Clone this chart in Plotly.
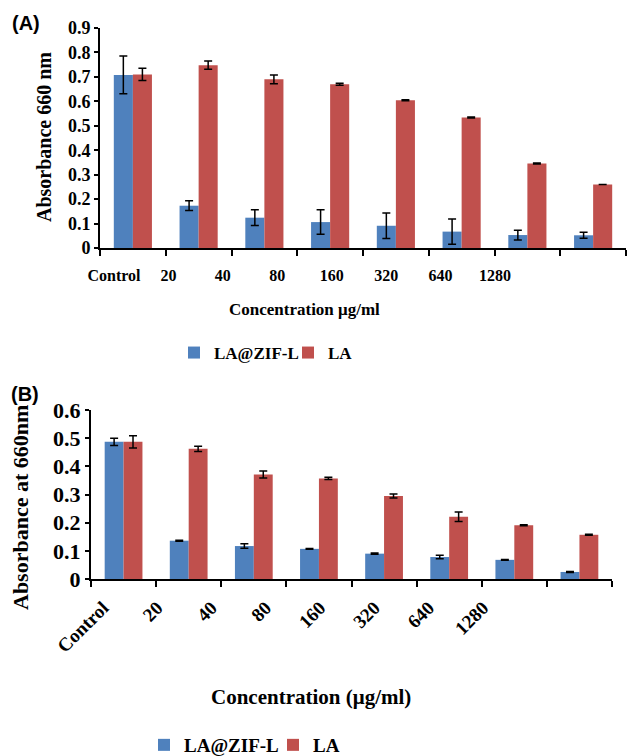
import plotly.graph_objects as go

W, H = 627, 756

categories = ["Control", "20", "40", "80", "160", "320", "640", "1280"]
series_names = ["LA@ZIF-L", "LA"]

# Panel A
a_zif = [0.708, 0.173, 0.124, 0.106, 0.091, 0.067, 0.053, 0.052]
a_zif_err = [0.077, 0.020, 0.032, 0.050, 0.052, 0.052, 0.020, 0.012]
a_la = [0.710, 0.748, 0.690, 0.670, 0.604, 0.534, 0.346, 0.260]
a_la_err = [0.025, 0.017, 0.018, 0.004, 0.002, 0.002, 0.002, 0.0]

# Panel B
b_zif = [0.487, 0.136, 0.117, 0.107, 0.090, 0.078, 0.068, 0.025]
b_zif_err = [0.013, 0.002, 0.008, 0.001, 0.002, 0.006, 0.001, 0.002]
b_la = [0.487, 0.462, 0.371, 0.357, 0.295, 0.221, 0.191, 0.157]
b_la_err = [0.022, 0.009, 0.012, 0.004, 0.007, 0.017, 0.002, 0.002]

BLUE = "#4F81BD"
RED = "#C0504D"
SERIF = "Liberation Serif"

def px(x):
    return x / W

def py(y):
    return 1 - y / H

fig = go.Figure()

def add_bars(xa, ya, vals, errs, name, color, legend, showlegend=True):
    fig.add_trace(go.Bar(
        x=categories, y=vals, name=name, marker=dict(color=color, line=dict(width=0)),
        error_y=dict(type="data", array=errs, color="black", thickness=1.5, width=4),
        xaxis=xa, yaxis=ya, legend=legend, showlegend=showlegend,
    ))

add_bars("x", "y", a_zif, a_zif_err, series_names[0], BLUE, "legend")
add_bars("x", "y", a_la, a_la_err, series_names[1], RED, "legend")
add_bars("x2", "y2", b_zif, b_zif_err, series_names[0], BLUE, "legend2")
add_bars("x2", "y2", b_la, b_la_err, series_names[1], RED, "legend2")

# invisible traces to hold the label axes
fig.add_trace(go.Scatter(x=[0], y=[0], xaxis="x3", yaxis="y", mode="markers",
                         marker=dict(opacity=0), showlegend=False, hoverinfo="skip"))
fig.add_trace(go.Scatter(x=[0], y=[0], xaxis="x4", yaxis="y2", mode="markers",
                         marker=dict(opacity=0), showlegend=False, hoverinfo="skip"))

axis_common = dict(showline=True, linecolor="black", linewidth=2, showgrid=False,
                   zeroline=False, mirror=False, automargin=False)

fig.update_layout(
    width=W, height=H,
    margin=dict(l=0, r=0, t=0, b=0, autoexpand=False),
    paper_bgcolor="white", plot_bgcolor="white",
    barmode="group", bargap=0.42, bargroupgap=0,
    font=dict(family=SERIF, color="black"),
    xaxis=dict(domain=[px(100), px(626)], anchor="y", type="category",
               showticklabels=False, ticks="outside", ticklen=6, tickwidth=2,
               tickcolor="black", tickson="boundaries", **axis_common),
    yaxis=dict(domain=[py(248), py(28)], anchor="x", range=[0, 0.9], dtick=0.1,
               ticks="outside", ticklen=4, tickwidth=2, tickcolor="black",
               tickfont=dict(family=SERIF, size=18, color="black", weight="bold"),
               **axis_common),
    xaxis3=dict(overlaying="x", anchor="y", domain=[px(100), px(626)],
                range=[-0.257, 9.407], tickvals=list(range(8)), ticktext=categories,
                showline=False, showgrid=False, zeroline=False, ticks="", automargin=False,
                ticklabelstandoff=16,
                tickfont=dict(family=SERIF, size=16, color="black", weight="bold")),
    xaxis2=dict(domain=[px(91), px(612)], anchor="y2", type="category",
                showticklabels=False, ticks="outside", ticklen=6, tickwidth=2,
                tickcolor="black", tickson="boundaries", **axis_common),
    yaxis2=dict(domain=[py(579), py(410)], anchor="x2", range=[0, 0.6], dtick=0.1,
                ticks="outside", ticklen=4, tickwidth=2, tickcolor="black",
                tickfont=dict(family=SERIF, size=22, color="black", weight="bold"),
                **axis_common),
    xaxis4=dict(overlaying="x2", anchor="y2", domain=[px(91), px(612)],
                range=[-0.22, 9.377], tickvals=list(range(8)), ticktext=categories,
                showline=False, showgrid=False, zeroline=False, ticks="", automargin=False,
                tickangle=-45, ticklabelstandoff=13,
                tickfont=dict(family=SERIF, size=19, color="black", weight="bold")),
    legend=dict(orientation="h", x=px(174), y=py(353), xanchor="left", yanchor="middle",
                font=dict(family=SERIF, size=17, color="black", weight="bold"),
                itemwidth=30, entrywidth=69, entrywidthmode="pixels",
                bgcolor="rgba(0,0,0,0)"),
    legend2=dict(orientation="h", x=px(144), y=py(745), xanchor="left", yanchor="middle",
                 font=dict(family=SERIF, size=19, color="black", weight="bold"),
                 itemwidth=30, entrywidth=84, entrywidthmode="pixels",
                 bgcolor="rgba(0,0,0,0)"),
)

def ann(text, x, y, size, family=SERIF, angle=0):
    fig.add_annotation(text=text, x=px(x), y=py(y), xref="paper", yref="paper",
                       xanchor="center", yanchor="middle", showarrow=False, textangle=angle,
                       font=dict(family=family, size=size, color="black", weight="bold"))

ann("(A)", 26, 23, 20, family="Liberation Sans")
ann("(B)", 25, 394, 20, family="Liberation Sans")
ann("Absorbance 660 nm", 44, 137, 20, angle=-90)
ann("Concentration \u03bcg/ml", 304, 310, 17)
ann("Absorbance at 660nm", 20, 508, 22, angle=-90)
ann("Concentration (\u03bcg/ml)", 311, 697, 21)

fig.write_html("out.html", config={"displayModeBar": False},
               post_script="document.body.style.margin='0';")
